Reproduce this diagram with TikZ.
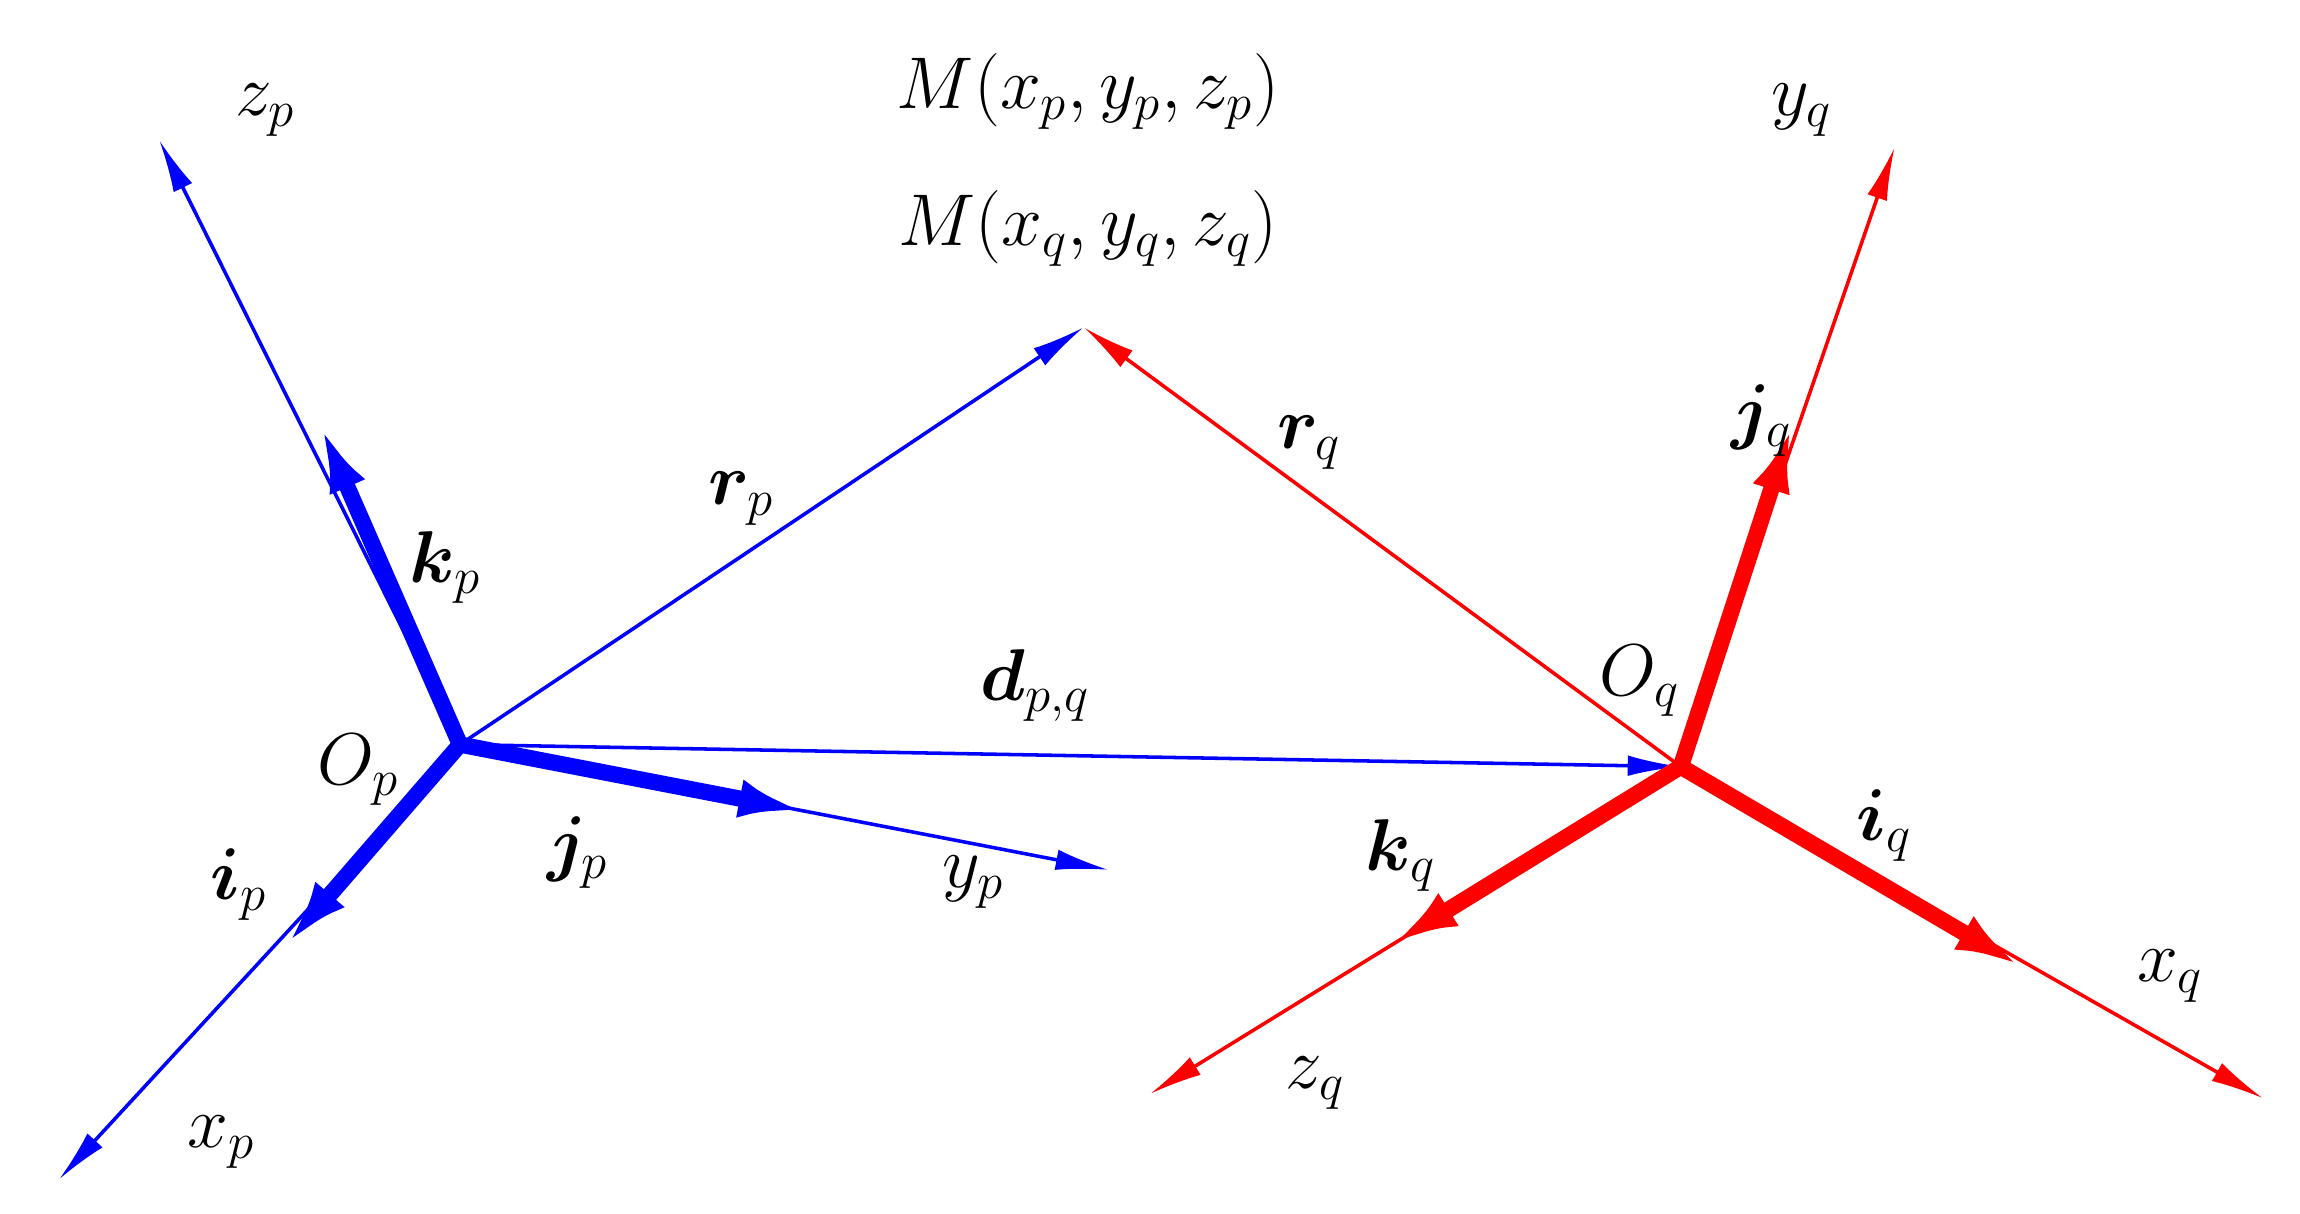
\documentclass[tikz,border=0pt]{standalone}
\usepackage{amsmath,bm}
\usetikzlibrary{arrows.meta}
\begin{document}
\begin{tikzpicture}[x=0.5pt,y=-0.5pt,
  thinb/.style={blue,line width=1.2pt,-{Latex[length=18pt,width=7pt]}},
  thickb/.style={blue,line width=5.5pt,-{Latex[length=22pt,width=13pt]}},
  thinr/.style={red,line width=1.2pt,-{Latex[length=18pt,width=7pt]}},
  thickr/.style={red,line width=5.5pt,-{Latex[length=22pt,width=13pt]}},
  lab/.style={font=\fontsize{24}{28}\selectfont}]
\useasboundingbox (0,0) rectangle (1560,823);
\coordinate (Op) at (312,505);
\coordinate (Oq) at (1140,520);
\coordinate (M) at (735,222);
\coordinate (zp) at (108,95);
\coordinate (xp) at (40,800);
\coordinate (yp) at (752,590);
\coordinate (kp) at (218,290);
\coordinate (ip) at (195,640);
\coordinate (jp) at (545,550);
\coordinate (yq) at (1285,100);
\coordinate (xq) at (1535,745);
\coordinate (zq) at (780,742);
\coordinate (jq) at (1215,290);
\coordinate (iq) at (1370,655);
\coordinate (kq) at (945,640);
\draw[thinb] (Op) -- (zp);
\draw[thinb] (Op) -- (xp);
\draw[thinb] (Op) -- (yp);
\draw[thinb] (Op) -- (M);
\draw[thinb] (Op) -- (Oq);
\draw[thickb] (Op) -- (kp);
\draw[thickb] (Op) -- (ip);
\draw[thickb] (Op) -- (jp);
\draw[thinr] (Oq) -- (M);
\draw[thinr] (Oq) -- (yq);
\draw[thinr] (Oq) -- (xq);
\draw[thinr] (Oq) -- (zq);
\draw[thickr] (Oq) -- (jq);
\draw[thickr] (Oq) -- (iq);
\draw[thickr] (Oq) -- (kq);
\node[lab] (Lzp) at (180,75) {$z_p$};
\node[lab] (Lxp) at (150,775) {$x_p$};
\node[lab] (LOp) at (243,522) {$O_p$};
\node[lab] (Lip) at (162,600) {$\bm{i}_p$};
\node[lab] (Lkp) at (302,385) {$\bm{k}_p$};
\node[lab] (Ljp) at (392,578) {$\bm{j}_p$};
\node[lab] (Lyp) at (660,598) {$y_p$};
\node[lab] (Lrp) at (503,338) {$\bm{r}_p$};
\node[lab] (Ld) at (702,465) {$\bm{d}_{p,q}$};
\node[lab] (LM1) at (738,62) {$M(x_p,y_p,z_p)$};
\node[lab] (LM2) at (738,155) {$M(x_q,y_q,z_q)$};
\node[lab] (Lrq) at (888,300) {$\bm{r}_q$};
\node[lab] (Ljq) at (1195,285) {$\bm{j}_q$};
\node[lab] (LOq) at (1112,462) {$O_q$};
\node[lab] (Lkq) at (950,580) {$\bm{k}_q$};
\node[lab] (Liq) at (1278,560) {$\bm{i}_q$};
\node[lab] (Lxq) at (1472,662) {$x_q$};
\node[lab] (Lzq) at (892,735) {$z_q$};
\node[lab] (Lyq) at (1222,75) {$y_q$};
\end{tikzpicture}
\end{document}
